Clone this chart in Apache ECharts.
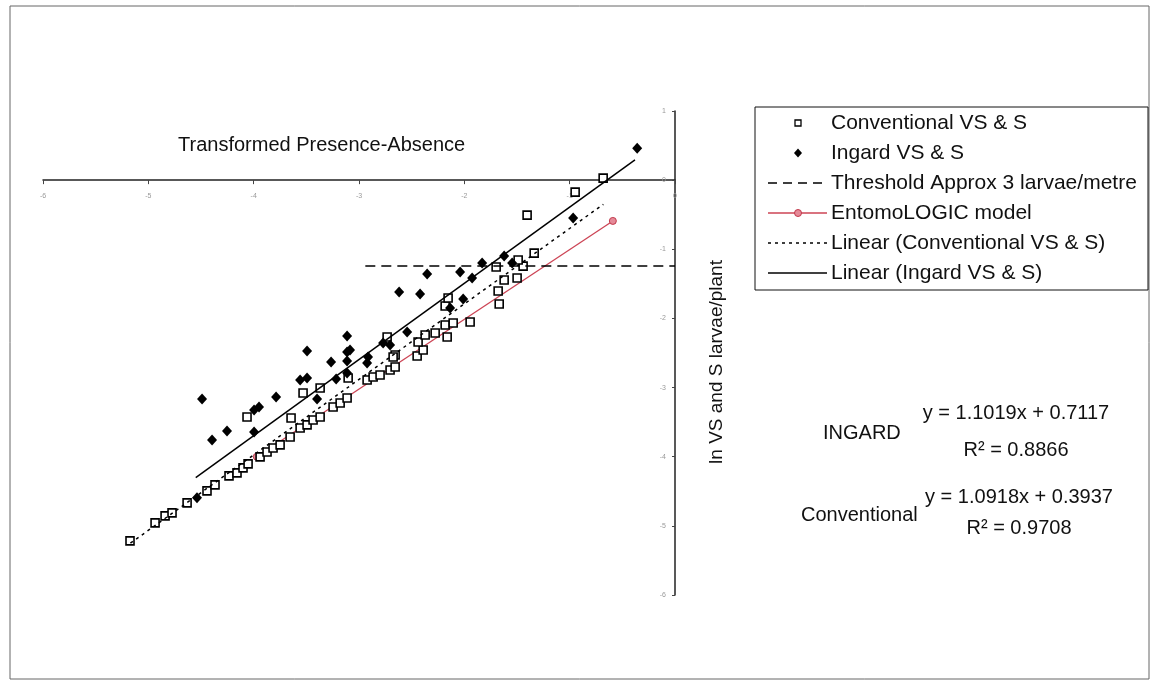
<!DOCTYPE html>
<html>
<head>
<meta charset="utf-8">
<script src="https://cdn.jsdelivr.net/npm/echarts@6/dist/echarts.min.js"></script>
<style>
html,body{margin:0;padding:0;background:#fff;}
#chart{width:1157px;height:685px;}
</style>
</head>
<body>
<div id="chart"></div>
<script>
// ---- data ----
const conventionalVSS = [
  [-5.174,-5.217],[-4.936,-4.957],[-4.841,-4.855],[-4.775,-4.812],[-4.632,-4.668],
  [-4.443,-4.494],[-4.367,-4.408],[-4.234,-4.277],[-4.158,-4.234],[-4.101,-4.162],
  [-4.053,-4.104],[-3.939,-4.003],[-3.873,-3.931],[-3.816,-3.873],[-3.749,-3.829],
  [-3.654,-3.714],[-3.559,-3.584],[-3.493,-3.540],[-3.436,-3.468],[-3.369,-3.425],
  [-3.246,-3.280],[-3.179,-3.223],[-3.113,-3.150],[-3.645,-3.439],[-4.063,-3.425],
  [-3.369,-3.006],[-3.531,-3.078],[-3.103,-2.861],[-2.923,-2.890],[-2.866,-2.847],
  [-2.800,-2.818],[-2.705,-2.746],[-2.657,-2.702],[-2.733,-2.269],[-2.657,-2.529],
  [-2.676,-2.558],[-2.448,-2.543],[-2.391,-2.457],[-2.439,-2.341],[-2.372,-2.240],
  [-2.277,-2.211],[-2.163,-2.269],[-2.182,-2.095],[-2.106,-2.066],[-1.945,-2.052],
  [-2.182,-1.821],[-2.154,-1.705],[-1.669,-1.792],[-1.679,-1.604],[-1.622,-1.445],
  [-1.499,-1.416],[-1.698,-1.257],[-1.442,-1.243],[-1.489,-1.156],[-1.337,-1.055],
  [-1.404,-0.506],[-0.948,-0.173],[-0.682,0.029]
];
const ingardVSS = [
  [-4.538,-4.595],[-4.395,-3.757],[-4.253,-3.627],[-3.996,-3.642],[-3.996,-3.324],
  [-3.949,-3.280],[-4.490,-3.165],[-3.787,-3.136],[-3.398,-3.165],[-3.559,-2.890],
  [-3.493,-2.861],[-3.217,-2.876],[-3.113,-2.789],[-3.493,-2.471],[-3.265,-2.630],
  [-3.113,-2.254],[-3.113,-2.486],[-3.113,-2.616],[-2.923,-2.645],[-3.085,-2.457],
  [-2.914,-2.558],[-2.771,-2.355],[-2.705,-2.384],[-2.543,-2.197],[-2.619,-1.618],
  [-2.420,-1.647],[-2.135,-1.850],[-2.011,-1.720],[-2.353,-1.358],[-2.040,-1.329],
  [-1.926,-1.416],[-1.831,-1.199],[-1.546,-1.199],[-1.622,-1.098],[-0.967,-0.549],
  [-0.359,0.462]
];
const thresholdLine = [[-2.94,-1.243],[0,-1.243]];
const entomologicModel = [[-3.97,-4.00],[-0.59,-0.59]];
const linearConventional = [[-5.17,-5.251],[-0.68,-0.349]];
const linearIngard = [[-4.55,-4.302],[-0.38,0.293]];
const xMin = -6, xMax = 0, yMin = -6, yMax = 1;
const seriesNames = [
  'Conventional VS & S','Ingard VS & S','Threshold Approx 3 larvae/metre',
  'EntomoLOGIC model','Linear (Conventional VS & S)','Linear (Ingard VS & S)'
];
const chartTitle = 'Transformed Presence-Absence';
const yAxisName = 'ln VS and S larvae/plant';
const ingardEq = ['INGARD','y = 1.1019x + 0.7117','R\u00B2 = 0.8866'];
const convEq = ['Conventional','y = 1.0918x + 0.3937','R\u00B2 = 0.9708'];

const FONT = '"Liberation Sans", Arial, sans-serif';
const GRID = { left: 43, right: 482, top: 111, bottom: 90 };
const gridH = 685 - GRID.top - GRID.bottom;
// x axis drawn where y = 0
const xAxisOffset = -gridH * (0 - yMin) / (yMax - yMin);

const chart = echarts.init(document.getElementById('chart'));
const label = (x, y, s, size, align) => ({
  type: 'text', x: x, y: y, silent: true,
  style: { text: s, font: size + 'px ' + FONT, fill: '#111',
           align: align || 'left', verticalAlign: 'middle' }
});

// custom legend (box, icons, texts)
const LX = 768, LW = 59, LTX = 831, rows = [123, 153, 183, 213, 243, 273];
const legendGraphic = [
  { type: 'rect', shape: { x: 755, y: 107, width: 393, height: 183 },
    style: { fill: '#fff', stroke: '#111', lineWidth: 1 }, silent: true, z: 50 },
  { type: 'rect', shape: { x: 795, y: rows[0] - 3, width: 6, height: 6 },
    style: { fill: '#fff', stroke: '#000', lineWidth: 1.3 }, silent: true, z: 51 },
  { type: 'polygon', shape: { points: [[798, rows[1]-4.5],[802, rows[1]],[798, rows[1]+4.5],[794, rows[1]]] },
    style: { fill: '#000' }, silent: true, z: 51 },
  { type: 'line', shape: { x1: LX, y1: rows[2], x2: LX + LW, y2: rows[2] },
    style: { stroke: '#000', lineWidth: 1.5, lineDash: [9, 6] }, silent: true, z: 51 },
  { type: 'line', shape: { x1: LX, y1: rows[3], x2: LX + LW, y2: rows[3] },
    style: { stroke: '#cc4455', lineWidth: 1.3 }, silent: true, z: 51 },
  { type: 'circle', shape: { cx: 798, cy: rows[3], r: 3.5 },
    style: { fill: '#e58a98', stroke: '#c23a4c', lineWidth: 1 }, silent: true, z: 52 },
  { type: 'line', shape: { x1: LX, y1: rows[4], x2: LX + LW, y2: rows[4] },
    style: { stroke: '#000', lineWidth: 1.5, lineDash: [3, 4] }, silent: true, z: 51 },
  { type: 'line', shape: { x1: LX, y1: rows[5], x2: LX + LW, y2: rows[5] },
    style: { stroke: '#000', lineWidth: 1.5 }, silent: true, z: 51 }
].concat(seriesNames.map((n, i) => Object.assign(label(LTX, rows[i], n, 21), { z: 52 })));

chart.setOption({
  animation: false,
  backgroundColor: '#fff',
  title: {
    text: chartTitle, left: 173, top: 130,
    textStyle: { fontFamily: FONT, fontSize: 20, fontWeight: 'normal', color: '#111' }
  },
  grid: GRID,
  xAxis: {
    type: 'value', min: xMin, max: xMax, interval: 1,
    position: 'bottom', offset: xAxisOffset,
    axisLine: { onZero: false, lineStyle: { color: '#222', width: 1.5 } },
    axisTick: { show: true, length: 4, lineStyle: { color: '#444' } },
    axisLabel: { fontSize: 7, color: '#999', margin: 12, fontFamily: FONT },
    splitLine: { show: false }
  },
  yAxis: {
    type: 'value', min: yMin, max: yMax, interval: 1, position: 'right',
    axisLine: { show: true, onZero: false, lineStyle: { color: '#222', width: 1.5 } },
    axisTick: { show: true, inside: true, length: 3, lineStyle: { color: '#444' } },
    axisLabel: { inside: true, fontSize: 7, color: '#999', margin: 9, fontFamily: FONT },
    splitLine: { show: false },
    name: yAxisName, nameLocation: 'middle', nameRotate: 90, nameGap: 32,
    nameTextStyle: { fontFamily: FONT, fontSize: 19, color: '#111', padding: [0, 18, 0, 0] }
  },
  legend: { show: false, data: seriesNames },
  series: [
    {
      name: seriesNames[3], type: 'line', data: entomologicModel, z: 1,
      symbol: 'circle', symbolSize: 7, showSymbol: true,
      lineStyle: { color: '#cc4455', width: 1.3 },
      itemStyle: { color: '#e58a98', borderColor: '#c23a4c', borderWidth: 1 }
    },
    {
      name: seriesNames[0], type: 'scatter', data: conventionalVSS, z: 3,
      symbol: 'rect', symbolSize: 8,
      itemStyle: { color: '#fff', borderColor: '#000', borderWidth: 1.6, opacity: 1 }
    },
    {
      name: seriesNames[1], type: 'scatter', data: ingardVSS, z: 3,
      symbol: 'diamond', symbolSize: [10, 11],
      itemStyle: { color: '#000', opacity: 1 }
    },
    {
      name: seriesNames[2], type: 'line', data: thresholdLine, z: 4,
      symbol: 'none', lineStyle: { color: '#000', width: 1.5, type: [10, 6] }
    },
    {
      name: seriesNames[4], type: 'line', data: linearConventional, z: 4,
      symbol: 'none', lineStyle: { color: '#000', width: 1.5, type: [3, 4] }
    },
    {
      name: seriesNames[5], type: 'line', data: linearIngard, z: 4,
      symbol: 'none', lineStyle: { color: '#000', width: 1.5 }
    }
  ],
  graphic: [
    { type: 'rect', shape: { x: 10, y: 6, width: 1139, height: 673 },
      style: { fill: 'none', stroke: '#666', lineWidth: 1 }, silent: true, z: -10 },
    label(823, 433, ingardEq[0], 20),
    label(1016, 413, ingardEq[1], 20, 'center'),
    label(1016, 450, ingardEq[2], 20, 'center'),
    label(801, 515, convEq[0], 20),
    label(1019, 497, convEq[1], 20, 'center'),
    label(1019, 528, convEq[2], 20, 'center')
  ].concat(legendGraphic)
});
</script>
</body>
</html>
